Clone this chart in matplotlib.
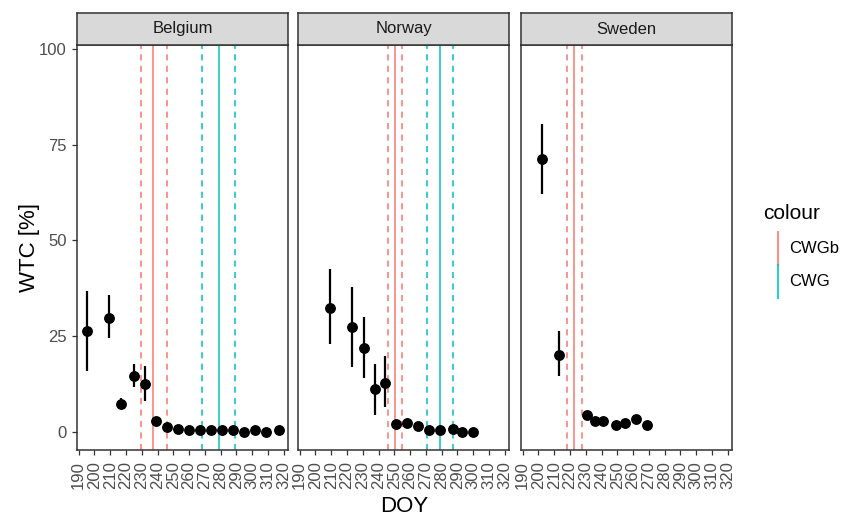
import numpy as np
import matplotlib
matplotlib.use("Agg")
import matplotlib.pyplot as plt
from matplotlib.lines import Line2D

plt.rcParams['font.family'] = ['Liberation Sans', 'DejaVu Sans']

# ---------------- data ----------------
countries = ["Belgium", "Norway", "Sweden"]

doy_be = [195, 209, 217, 225, 232, 239, 246, 253, 260, 267, 274, 281, 288, 295, 302, 309, 317]
wtc_be = [26.2, 29.7, 7.3, 14.6, 12.4, 2.7, 1.2, 0.7, 0.4, 0.4, 0.4, 0.4, 0.4, 0.0, 0.4, 0.0, 0.4]
lo_be = [15.8, 24.5, 5.8, 11.8, 7.9, 2.4, 0.9, 0.5, 0.2, 0.2, 0.2, 0.2, 0.2, 0.0, 0.2, 0.0, 0.2]
hi_be = [36.9, 35.6, 8.9, 17.8, 17.1, 3.0, 1.6, 0.9, 0.6, 0.6, 0.6, 0.6, 0.6, 0.2, 0.6, 0.2, 0.6]

doy_no = [209, 223, 231, 238, 244, 251, 258, 265, 272, 279, 287, 293, 300]
wtc_no = [32.3, 27.4, 21.9, 11.2, 12.7, 2.0, 2.3, 1.6, 0.4, 0.4, 0.8, 0.0, 0.0]
lo_no = [23.0, 16.8, 14.0, 4.4, 6.4, 1.6, 1.3, 1.3, 0.2, 0.2, 0.5, 0.0, 0.0]
hi_no = [42.5, 37.7, 30.1, 17.8, 19.7, 2.4, 3.4, 1.9, 0.6, 0.6, 1.1, 0.2, 0.2]

doy_se = [202, 213, 231, 236, 241, 249, 255, 262, 269]
wtc_se = [71.3, 20.0, 4.3, 2.7, 2.7, 1.8, 2.3, 3.3, 1.8]
lo_se = [62.2, 14.5, 4.0, 2.4, 2.4, 1.5, 2.0, 2.4, 1.5]
hi_se = [80.5, 26.2, 4.6, 3.0, 3.0, 2.1, 2.6, 4.3, 2.1]

# vertical reference lines: (lower, estimate, upper)
cwgb = {"Belgium": (229.5, 237.0, 246.0), "Norway": (246.0, 250.3, 254.7), "Sweden": (218.3, 222.5, 227.8)}
cwg = {"Belgium": (268.3, 278.8, 289.0), "Norway": (271.0, 278.8, 287.5), "Sweden": None}

series = {
    "Belgium": (doy_be, wtc_be, lo_be, hi_be),
    "Norway": (doy_no, wtc_no, lo_no, hi_no),
    "Sweden": (doy_se, wtc_se, lo_se, hi_se),
}

x_ticks = list(range(190, 330, 10))
y_ticks = [0, 25, 50, 75, 100]
legend_labels = ["CWGb", "CWG"]
colors = {"CWGb": "#F8766D", "CWG": "#00BFC4"}

# ---------------- layout ----------------
W, H = 853, 516
fig = plt.figure(figsize=(W / 100, H / 100), dpi=100)

panel_left = [77, 298, 521]
panel_w = 211.5
panel_top, panel_bot = 45, 450
strip_top = 13

border = "#333333"
tickc = "#4D4D4D"

for i, c in enumerate(countries):
    l = panel_left[i]
    ax = fig.add_axes([l / W, 1 - panel_bot / H, panel_w / W, (panel_bot - panel_top) / H])
    ax.set_xlim(188.9, 323.1)
    ax.set_ylim(-4.8, 101.1)

    # reference lines
    for key, d in (("CWGb", cwgb[c]), ("CWG", cwg[c])):
        if d is None:
            continue
        ax.axvline(d[0], color=colors[key], lw=1.1, ls=(0, (4, 3.5)), zorder=1)
        ax.axvline(d[2], color=colors[key], lw=1.1, ls=(0, (4, 3.5)), zorder=1)
        ax.axvline(d[1], color=colors[key], lw=1.2, zorder=1, alpha=0.9)

    doy, wtc, lo, hi = (np.array(v, dtype=float) for v in series[c])
    ax.vlines(doy, lo, hi, color="black", lw=1.6, zorder=2)
    ax.plot(doy, wtc, "o", color="black", ms=6.8, zorder=3)

    ax.set_xticks(x_ticks)
    ax.set_xticklabels([str(t) for t in x_ticks], rotation=90, fontsize=12, color=tickc)
    ax.set_yticks(y_ticks)
    if i == 0:
        ax.set_yticklabels([str(t) for t in y_ticks], fontsize=12, color=tickc)
    else:
        ax.set_yticklabels([])
        ax.tick_params(axis="y", length=0)
    ax.tick_params(axis="both", length=3.5, width=0.9, color=border)
    ax.tick_params(axis="x", pad=4.5)
    ax.tick_params(axis="y", pad=4)
    if i != 0:
        ax.tick_params(axis="y", length=0)
    for s in ax.spines.values():
        s.set_color(border)
        s.set_linewidth(1.1)

    # facet strip
    sax = fig.add_axes([l / W, 1 - panel_top / H, panel_w / W, (panel_top - strip_top) / H])
    sax.set_facecolor("#D9D9D9")
    sax.set_xticks([])
    sax.set_yticks([])
    for s in sax.spines.values():
        s.set_color(border)
        s.set_linewidth(1.1)
    sax.text(0.5, 0.5, c, ha="center", va="center", fontsize=12, color="#1A1A1A",
             transform=sax.transAxes)

# axis titles
fig.text(404.5 / W, 1 - 507 / H, "DOY", ha="center", va="center", fontsize=16, color="black")
fig.text(30 / W, 1 - 247.5 / H, "WTC [%]", ha="center", va="center", rotation=90,
         fontsize=16, color="black")

# legend
fig.text(763 / W, 1 - 213 / H, "colour", ha="left", va="center", fontsize=15, color="black")
key_y = [(231.7, 265.0), (265.0, 298.3)]
for lab, (y0, y1) in zip(legend_labels, key_y):
    fig.add_artist(Line2D([777.7 / W, 777.7 / W], [1 - y0 / H, 1 - y1 / H],
                          transform=fig.transFigure, color=colors[lab], lw=1.5, alpha=0.8))
    fig.text(789 / W, 1 - (y0 + y1) / 2 / H, lab, ha="left", va="center", fontsize=12,
             color="black")

fig.savefig("out.png", dpi=100)
